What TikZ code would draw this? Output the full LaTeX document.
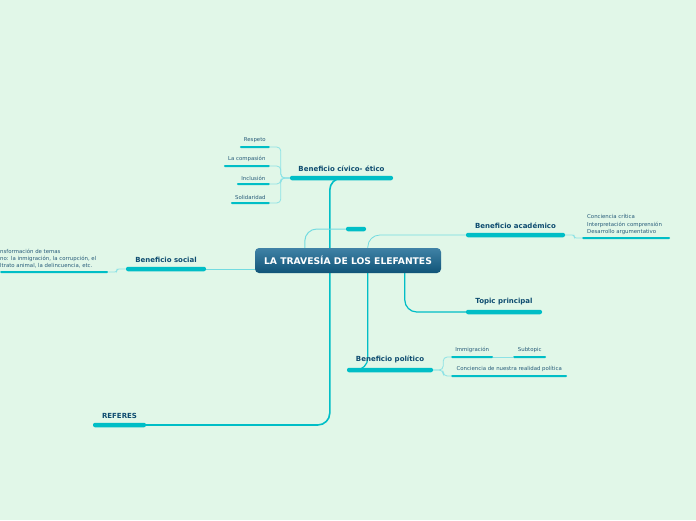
\documentclass[tikz,border=0pt]{standalone}
\usepackage{fontspec}
\setmainfont{DejaVu Sans}
\usetikzlibrary{positioning,backgrounds}
\definecolor{mint}{RGB}{225,247,232}
\definecolor{lagoon}{RGB}{0,190,198}
\definecolor{navy}{RGB}{14,76,112}
\definecolor{slate}{RGB}{40,92,122}
\definecolor{deeptop}{RGB}{64,130,166}
\definecolor{deepbot}{RGB}{16,84,120}
\tikzset{
  bar/.style={fill=lagoon,rounded corners=2pt,inner sep=0pt,minimum height=4.5pt,minimum width=#1},
  leaf/.style={fill=lagoon,rounded corners=1pt,inner sep=0pt,minimum height=2pt,minimum width=#1},
  head/.style={font=\fontsize{7}{8}\selectfont\bfseries,text=navy,inner sep=0pt},
  twig/.style={font=\fontsize{5.4}{7.4}\selectfont,text=slate,inner sep=0pt,align=left},
  trunk/.style={draw=lagoon,line width=1.6pt,rounded corners=12pt},
  branch/.style={draw=lagoon!55!white,line width=1pt,rounded corners=12pt},
  brace/.style={draw=lagoon!45!white,line width=0.8pt,rounded corners=4pt},
}

\begin{document}
\begin{tikzpicture}[x=1pt,y=-1pt]
  \useasboundingbox (0,0) rectangle (696,520);

  % central topic
  \node[top color=deeptop,bottom color=deepbot,rounded corners=4pt,minimum width=186pt,
    minimum height=25pt,inner sep=0pt,text=white,font=\fontsize{9.2}{10}\selectfont\bfseries]
    (ctr) at (348,260.5) {LA TRAVESÍA DE LOS ELEFANTES};

  % main branches
  \node[bar=103pt] (civico) at (341.5,178) {};
  \node[head,above=4pt of civico] {Beneficio cívico- ético};
  \node[bar=20pt] (blank) at (356,229) {};
  \node[bar=99pt] (academico) at (515.5,235) {};
  \node[head,above=4pt of academico] {Beneficio académico};
  \node[bar=76pt] (topic) at (504,312) {};
  \node[head,above=4pt of topic] {Topic principal};
  \node[bar=86pt] (politico) at (390,370) {};
  \node[head,above=4pt of politico] {Beneficio político};
  \node[bar=80pt] (social) at (166,269) {};
  \node[head,above=4pt of social] {Beneficio social};
  \node[bar=53pt] (referes) at (119.5,425) {};
  \node[head,above=4pt of referes] {REFERES};

  % leaves of civico
  \node[leaf=30pt,anchor=east] (respeto) at (270,147) {};
  \node[twig,above=2.5pt of respeto] {Respeto};
  \node[leaf=46pt,anchor=east] (compasion) at (270,166) {};
  \node[twig,above=2.5pt of compasion] {La compasión};
  \node[leaf=33pt,anchor=east] (inclusion) at (270,184) {};
  \node[twig,above=2.5pt of inclusion] {Inclusión};
  \node[leaf=39pt,anchor=east] (solidaridad) at (270,203) {};
  \node[twig,above=2.5pt of solidaridad] {Solidaridad};

  % leaves of academico
  \node[leaf=88pt,anchor=west] (critica) at (582,238) {};
  \node[twig,anchor=south west] at ([xshift=5pt,yshift=2pt]critica.north west)
    {Conciencia crítica\\Interpretación comprensión\\Desarrollo argumentativo};

  % leaves of politico
  \node[leaf=42pt,anchor=west] (inmig) at (451,357) {};
  \node[twig,above=2.5pt of inmig] {Immigración};
  \node[leaf=33pt,anchor=west] (subtopic) at (513,357) {};
  \node[twig,above=2.5pt of subtopic] {Subtopic};
  \node[leaf=116pt,anchor=west] (realidad) at (451,376) {};
  \node[twig,above=2.5pt of realidad] {Conciencia de nuestra realidad política};

  % leaf of social
  \node[leaf=108pt,anchor=west] (transf) at (0,272) {};
  \node[twig,anchor=south west] at ([yshift=2pt]transf.north west)
    {nsformación de temas\\no: la inmigración, la corrupción, el\\ltrato animal, la delincuencia, etc.};

  \begin{scope}[on background layer]
    \fill[mint] (0,0) rectangle (696,520);
    % connectors
    \draw[trunk] ([xshift=75pt]ctr.north west) |- (civico.center);
    \draw[branch] ([xshift=50pt]ctr.north west) |- (blank.west);
    \draw[branch,line width=0.8pt] ([xshift=113pt]ctr.north west) |- (academico.west);
    \draw[trunk,line width=1.2pt] ([xshift=150pt]ctr.south west) |- (topic.west);
    \draw[trunk,line width=1.2pt] ([xshift=113pt]ctr.south west) |- ([xshift=8pt]politico.west);
    \draw[branch,line width=0.8pt] (ctr.west |- social.center) -- (social.east);
    \draw[trunk] ([xshift=75pt]ctr.south west) |- (referes.east);
    \draw[brace] (civico.west) -- ++(-9,0) |- (respeto.east);
    \draw[brace] (civico.west) -- ++(-9,0) |- (compasion.east);
    \draw[brace] (civico.west) -- ++(-9,0) |- (inclusion.east);
    \draw[brace] (civico.west) -- ++(-9,0) |- (solidaridad.east);
    \draw[brace,rounded corners=2pt] (academico.east) -- ++(9,0) |- (critica.west);
    \draw[brace] (politico.east) -- ++(10,0) |- (inmig.west);
    \draw[brace] (politico.east) -- ++(10,0) |- (realidad.west);
    \draw[brace] (inmig.east) -- (subtopic.west);
    \draw[brace,rounded corners=2pt] (social.west) -- ++(-9,0) |- (transf.east);
  \end{scope}
\end{tikzpicture}
\end{document}
